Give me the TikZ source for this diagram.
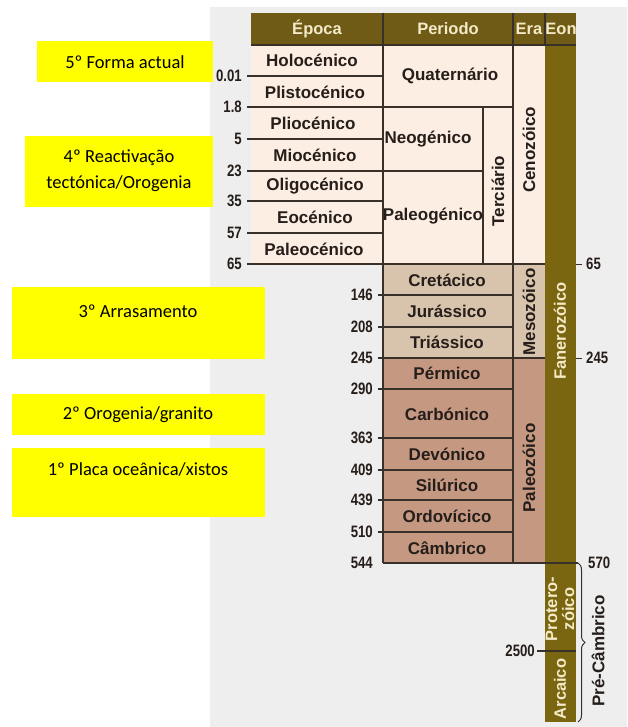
\documentclass[tikz,border=0pt]{standalone}
\usepackage{fontspec}
\setmainfont{Liberation Sans}
\newfontfamily\boxfont{Carlito}
\newfontfamily\numfont[FakeStretch=0.8]{Liberation Sans}
\usetikzlibrary{decorations.pathreplacing}

\definecolor{bggray}{RGB}{238,238,238}
\definecolor{cenopink}{RGB}{252,238,227}
\definecolor{mesotan}{RGB}{216,196,173}
\definecolor{paleobrown}{RGB}{197,152,130}
\definecolor{headol}{RGB}{111,91,22}
\definecolor{eonol}{RGB}{122,102,16}
\definecolor{creamtext}{RGB}{244,234,200}
\definecolor{linec}{RGB}{58,48,42}
\definecolor{inktext}{RGB}{38,30,26}
\definecolor{noteyellow}{RGB}{255,255,0}

\tikzset{
  cell/.style={font=\fontsize{17}{18}\selectfont\bfseries, text=inktext, inner sep=0pt},
  headcell/.style={font=\fontsize{16.5}{18}\selectfont\bfseries, text=creamtext, inner sep=0pt},
  eoncell/.style={font=\fontsize{16.5}{17}\selectfont\bfseries, text=creamtext, inner sep=0pt, align=center},
  age/.style={font=\numfont\bfseries\fontsize{16.5}{17}\selectfont, text=inktext, inner sep=0pt},
  note/.style={font=\boxfont\fontsize{18.5}{26}\selectfont, text=black, align=center, inner sep=0pt},
  gridline/.style={draw=linec, line width=1.3pt},
}

\begin{document}
\begin{tikzpicture}[x=1pt,y=-1pt]
\useasboundingbox (0,0) rectangle (627,727);

% backdrop of the chart
\fill[bggray] (210,7) rectangle (627,727);

% cell fills
\fill[cenopink] (251,45) rectangle (545,264);
\fill[mesotan] (383,264) rectangle (545,358);
\fill[paleobrown] (383,358) rectangle (545,563);
\fill[eonol] (545,45) rectangle (576,722);
\fill[headol] (251,13) rectangle (576,45);

% header
\draw[gridline] (383,13) -- (383,45);
\draw[gridline] (513,13) -- (513,45);
\draw[gridline] (545,13) -- (545,45);
\draw[gridline] (251,45) -- (576,45);
\node[headcell] (hepoca) at (317,29) {Época};
\node[headcell] (hperiodo) at (448,29) {Periodo};
\node[headcell] (hera) at (529,29) {Era};
\node[headcell] (heon) at (561,29) {Eon};

% Cenozoic grid
\foreach \yy in {76,107,139,171,201,233}
  \draw[gridline] (247,\yy) -- (383,\yy);
\draw[gridline] (247,264) -- (545,264);
\draw[gridline] (383,107) -- (513,107);
\draw[gridline] (383,171) -- (483,171);
\draw[gridline] (383,45) -- (383,563);
\draw[gridline] (483,107) -- (483,264);
\draw[gridline] (513,45) -- (513,563);

% Mesozoic and Paleozoic grid
\foreach \yy in {295,327,389,438,470,500,532}
  \draw[gridline] (378,\yy) -- (513,\yy);
\draw[gridline] (378,358) -- (545,358);
\draw[gridline] (383,563) -- (578,563);

% right-hand ticks
\draw[gridline, line width=1pt] (576,264) -- (582,264);
\draw[gridline, line width=1pt] (576,358) -- (582,358);
\draw[gridline] (537,651) -- (576,651);

% Precambrian brace
\draw[draw=linec, line width=1pt, decorate, decoration={brace, amplitude=7pt}]
  (578,563) -- (578,722);

% epochs
\node[cell] (holo) at (312,60) {Holocénico};
\node[cell] (plisto) at (315,92) {Plistocénico};
\node[cell] (plio) at (313,123) {Pliocénico};
\node[cell] (mio) at (315,155) {Miocénico};
\node[cell] (oligo) at (315,186) {Oligocénico};
\node[cell] (eoc) at (315,217) {Eocénico};
\node[cell] (paleoc) at (314,249) {Paleocénico};

% periods
\node[cell] (quat) at (450,76) {Quaternário};
\node[cell] (neog) at (428,139) {Neogénico};
\node[cell] (paleog) at (433,216) {Paleogénico};
\node[cell, rotate=90] (terc) at (498,191) {Terciário};
\node[cell] (cret) at (447,280) {Cretácico};
\node[cell] (jura) at (447,311) {Jurássico};
\node[cell] (trias) at (447,342) {Triássico};
\node[cell] (perm) at (447,373) {Pérmico};
\node[cell] (carb) at (447,414) {Carbónico};
\node[cell] (devo) at (447,454) {Devónico};
\node[cell] (silu) at (447,485) {Silúrico};
\node[cell] (ordo) at (447,516) {Ordovícico};
\node[cell] (camb) at (447,548) {Câmbrico};

% eras
\node[cell, rotate=90] (ceno) at (529,150) {Cenozóico};
\node[cell, rotate=90] (meso) at (529,312) {Mesozóico};
\node[cell, rotate=90] (paleoz) at (529,468) {Paleozóico};

% eons
\node[eoncell, rotate=90] (fanero) at (560,331) {Fanerozóico};
\node[eoncell, rotate=90] (protero) at (560,609) {Protero-\\zóico};
\node[eoncell, rotate=90] (arcaico) at (560,689) {Arcaico};
\node[cell, rotate=90] (precamb) at (598,651) {Pré-Câmbrico};

% ages (Ma)
\node[age, anchor=east] (a001) at (242,76) {0.01};
\node[age, anchor=east] (a18) at (242,107) {1.8};
\node[age, anchor=east] (a5) at (242,139) {5};
\node[age, anchor=east] (a23) at (242,171) {23};
\node[age, anchor=east] (a35) at (242,201) {35};
\node[age, anchor=east] (a57) at (242,233) {57};
\node[age, anchor=east] (a65) at (242,264) {65};
\node[age, anchor=east] (a146) at (373,295) {146};
\node[age, anchor=east] (a208) at (373,327) {208};
\node[age, anchor=east] (a245) at (373,358) {245};
\node[age, anchor=east] (a290) at (373,389) {290};
\node[age, anchor=east] (a363) at (373,438) {363};
\node[age, anchor=east] (a409) at (373,470) {409};
\node[age, anchor=east] (a439) at (373,500) {439};
\node[age, anchor=east] (a510) at (373,532) {510};
\node[age, anchor=east] (a544) at (373,563) {544};
\node[age, anchor=east] (a2500) at (535,651) {2500};
\node[age, anchor=west] (r65) at (586,264) {65};
\node[age, anchor=west] (r245) at (586,358) {245};
\node[age, anchor=west] (r570) at (588,563) {570};

% yellow notes
\fill[noteyellow] (37,41) rectangle (213,82);
\node[note] (n5) at (125,62) {5º Forma actual};
\fill[noteyellow] (25,136) rectangle (213,207);
\node[note] (n4) at (119,171) {4º Reactivação\\tectónica/Orogenia};
\fill[noteyellow] (12,287) rectangle (265,359);
\node[note] (n3) at (138,311) {3º Arrasamento};
\fill[noteyellow] (12,394) rectangle (265,435);
\node[note] (n2) at (138,415) {2º Orogenia/granito};
\fill[noteyellow] (12,448) rectangle (265,517);
\node[note] (n1) at (138,469) {1º Placa oceânica/xistos};
\end{tikzpicture}
\end{document}
